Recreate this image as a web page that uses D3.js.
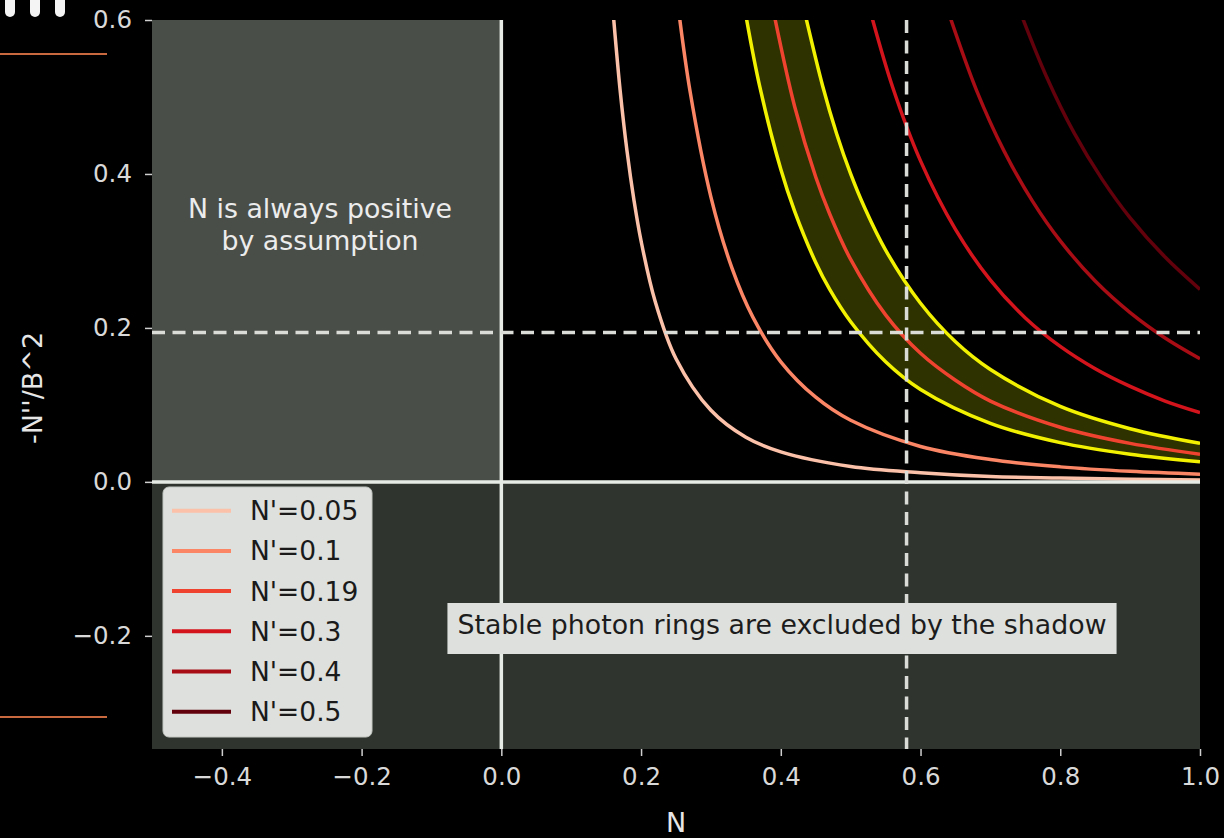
<!DOCTYPE html>
<html>
<head>
<meta charset="utf-8">
<script src="https://cdn.jsdelivr.net/npm/d3@7"></script>
<style>
  html, body { margin: 0; padding: 0; background: #000; }
  svg { display: block; font-family: "DejaVu Sans", sans-serif; }
</style>
</head>
<body>
<svg id="chart" width="1224" height="838"></svg>
<script>
"use strict";
// legend entries and their colours
var nPrimeLabels = ["N'=0.05", "N'=0.1", "N'=0.19", "N'=0.3", "N'=0.4", "N'=0.5"];
var curveColors = ["#fcc1a9", "#fb8666", "#f0432f", "#d4141c", "#a80c14", "#62000b"];

// [N, -N''/B^2] points, one array per N'
var curve005 = [[0.16, 0.61], [0.17, 0.509], [0.18, 0.429], [0.19, 0.365], [0.20, 0.313], [0.22, 0.235],
  [0.25, 0.160], [0.30, 0.093], [0.35, 0.058], [0.40, 0.039], [0.50, 0.020], [0.60, 0.012],
  [0.70, 0.007], [0.80, 0.005], [0.90, 0.0034], [1.00, 0.0025]];
var curve010 = [[0.25, 0.64], [0.27, 0.508], [0.30, 0.370], [0.33, 0.278], [0.36, 0.214], [0.40, 0.156],
  [0.45, 0.110], [0.50, 0.080], [0.60, 0.046], [0.70, 0.029], [0.80, 0.0195], [0.90, 0.0137], [1.00, 0.010]];
var curve019 = [[0.39, 0.609], [0.42, 0.487], [0.45, 0.396], [0.47, 0.348], [0.50, 0.289], [0.55, 0.217],
  [0.60, 0.167], [0.65, 0.132], [0.70, 0.105], [0.80, 0.071], [0.90, 0.050], [1.00, 0.036]];
var curve030 = [[0.53, 0.605], [0.56, 0.513], [0.60, 0.417], [0.65, 0.328], [0.70, 0.262], [0.75, 0.213],
  [0.80, 0.176], [0.85, 0.147], [0.90, 0.124], [0.95, 0.105], [1.00, 0.090]];
var curve040 = [[0.64, 0.610], [0.68, 0.509], [0.72, 0.429], [0.76, 0.365], [0.80, 0.313], [0.85, 0.261],
  [0.90, 0.220], [0.95, 0.187], [1.00, 0.160]];
var curve050 = [[0.745, 0.605], [0.78, 0.527], [0.82, 0.453], [0.86, 0.393], [0.90, 0.343], [0.95, 0.292],
  [1.00, 0.250]];
var curveSeries = [curve005, curve010, curve019, curve030, curve040, curve050];

// yellow band around N'=0.19
var bandLower = [[0.35, 0.606], [0.37, 0.513], [0.40, 0.406], [0.42, 0.351], [0.45, 0.285], [0.47, 0.250],
  [0.50, 0.208], [0.55, 0.156], [0.60, 0.120], [0.70, 0.076], [0.80, 0.051], [0.90, 0.036], [1.00, 0.026]];
var bandUpper = [[0.435, 0.607], [0.46, 0.514], [0.48, 0.452], [0.50, 0.400], [0.52, 0.356], [0.55, 0.301],
  [0.60, 0.232], [0.65, 0.182], [0.70, 0.146], [0.80, 0.098], [0.90, 0.069], [1.00, 0.050]];

var xTicks = [-0.4, -0.2, 0.0, 0.2, 0.4, 0.6, 0.8, 1.0];
var yTicks = [-0.2, 0.0, 0.2, 0.4, 0.6];
var shadowN = 0.58;
var shadowLevel = 0.194;

var svg = d3.select("#chart");
var plotLeft = 152, plotRight = 1200, plotTop = 20, plotBottom = 749;

var x = d3.scaleLinear().domain([-0.5, 1.0]).range([plotLeft, plotRight]);
var y = d3.scaleLinear().domain([-0.347, 0.6]).range([plotBottom, plotTop]);

// stray bits from the surrounding frame
svg.append("g").selectAll("rect")
  .data([10, 35, 60])
  .enter().append("rect")
  .attr("x", function (d) { return d - 5; })
  .attr("y", -10)
  .attr("width", 10)
  .attr("height", 27)
  .attr("rx", 5)
  .attr("fill", "#f4f4f4");
svg.append("g").selectAll("line")
  .data([54, 717])
  .enter().append("line")
  .attr("x1", 0).attr("x2", 107)
  .attr("y1", function (d) { return d; }).attr("y2", function (d) { return d; })
  .attr("stroke", "#c8693f")
  .attr("stroke-width", 2);

svg.append("defs").append("clipPath")
  .attr("id", "plotclip")
  .append("rect")
  .attr("x", plotLeft).attr("y", plotTop)
  .attr("width", plotRight - plotLeft).attr("height", plotBottom - plotTop);

var plot = svg.append("g").attr("clip-path", "url(#plotclip)");

plot.append("rect")
  .attr("x", plotLeft).attr("y", plotTop)
  .attr("width", plotRight - plotLeft).attr("height", plotBottom - plotTop)
  .attr("fill", "#000");
// N < 0 region
plot.append("rect")
  .attr("x", x(-0.5)).attr("y", y(0.6))
  .attr("width", x(0) - x(-0.5)).attr("height", y(0) - y(0.6))
  .attr("fill", "#4a4e49");
// shadow region
plot.append("rect")
  .attr("x", plotLeft).attr("y", y(0))
  .attr("width", plotRight - plotLeft).attr("height", plotBottom - y(0))
  .attr("fill", "#30342f");

var line = d3.line()
  .x(function (d) { return x(d[0]); })
  .y(function (d) { return y(d[1]); })
  .curve(d3.curveCatmullRom.alpha(0.5));

var bandPath = line(bandUpper) + "L" + line(bandLower.slice().reverse()).slice(1) + "Z";
plot.append("path")
  .attr("d", bandPath)
  .attr("fill", "#2d3200");

plot.append("g").selectAll("path")
  .data(curveSeries)
  .enter().append("path")
  .attr("d", line)
  .attr("fill", "none")
  .attr("stroke", function (d, i) { return curveColors[i]; })
  .attr("stroke-width", 3.5);

plot.append("g").selectAll("path")
  .data([bandLower, bandUpper])
  .enter().append("path")
  .attr("d", line)
  .attr("fill", "none")
  .attr("stroke", "#f2f200")
  .attr("stroke-width", 3.5);

// zero lines
plot.append("line")
  .attr("x1", plotLeft).attr("x2", plotRight)
  .attr("y1", y(0)).attr("y2", y(0))
  .attr("stroke", "#e6ebe5").attr("stroke-width", 3.5);
plot.append("line")
  .attr("x1", x(0)).attr("x2", x(0))
  .attr("y1", plotTop).attr("y2", plotBottom)
  .attr("stroke", "#e6ebe5").attr("stroke-width", 3.5);

// shadow edge
plot.append("line")
  .attr("x1", plotLeft).attr("x2", plotRight)
  .attr("y1", y(shadowLevel)).attr("y2", y(shadowLevel))
  .attr("stroke", "#dadcd8").attr("stroke-width", 3.5)
  .attr("stroke-dasharray", "13,7.5");
plot.append("line")
  .attr("x1", x(shadowN)).attr("x2", x(shadowN))
  .attr("y1", plotTop).attr("y2", plotBottom)
  .attr("stroke", "#dadcd8").attr("stroke-width", 3.5)
  .attr("stroke-dasharray", "13,7.5");

// annotations
var note = svg.append("text")
  .attr("text-anchor", "middle")
  .attr("fill", "#ececec")
  .attr("font-size", 26.8);
note.append("tspan").attr("x", 320).attr("y", 218).text("N is always positive");
note.append("tspan").attr("x", 320).attr("y", 250).text("by assumption");

var boxG = svg.append("g");
var boxRect = boxG.append("rect").attr("fill", "#dde0dc");
var boxText = boxG.append("text")
  .attr("x", 782).attr("y", 634)
  .attr("text-anchor", "middle")
  .attr("fill", "#1c1c1c")
  .attr("font-size", 26.8)
  .text("Stable photon rings are excluded by the shadow");
var bb = boxText.node().getBBox();
boxRect.attr("x", bb.x - 10).attr("y", 603)
  .attr("width", bb.width + 20).attr("height", 51);

// axes
var xAxis = svg.append("g").attr("transform", "translate(0," + plotBottom + ")")
  .call(d3.axisBottom(x).tickValues(xTicks).tickFormat(d3.format(".1f")).tickSize(7).tickPadding(12));
var yAxis = svg.append("g").attr("transform", "translate(" + plotLeft + ",0)")
  .call(d3.axisLeft(y).tickValues(yTicks).tickFormat(d3.format(".1f")).tickSize(7).tickPadding(13));
[xAxis, yAxis].forEach(function (a) {
  a.select(".domain").remove();
  a.selectAll(".tick line").attr("stroke", "#cfcfcf").attr("stroke-width", 1.5);
  a.selectAll(".tick text").attr("fill", "#d9d9d9").attr("font-size", 24.5)
    .attr("font-family", "DejaVu Sans, sans-serif");
});

svg.append("text")
  .attr("x", 676).attr("y", 832)
  .attr("text-anchor", "middle")
  .attr("fill", "#e6e6e6")
  .attr("font-size", 27)
  .text("N");
svg.append("text")
  .attr("transform", "translate(42,388) rotate(-90)")
  .attr("text-anchor", "middle")
  .attr("fill", "#e6e6e6")
  .attr("font-size", 27)
  .text("-N''/B^2");

// legend
var legend = svg.append("g");
legend.append("rect")
  .attr("x", 163).attr("y", 487)
  .attr("width", 209).attr("height", 250)
  .attr("rx", 6)
  .attr("fill", "#dde0dc")
  .attr("stroke", "#c4c8c3");
var rows = legend.selectAll("g.row")
  .data(nPrimeLabels)
  .enter().append("g")
  .attr("class", "row")
  .attr("transform", function (d, i) { return "translate(0," + (510.7 + i * 40.2) + ")"; });
rows.append("line")
  .attr("x1", 172).attr("x2", 231)
  .attr("stroke", function (d, i) { return curveColors[i]; })
  .attr("stroke-width", 4);
rows.append("text")
  .attr("x", 250).attr("y", 9.5)
  .attr("fill", "#1a1a1a")
  .attr("font-size", 26.5)
  .text(function (d) { return d; });
</script>
</body>
</html>
